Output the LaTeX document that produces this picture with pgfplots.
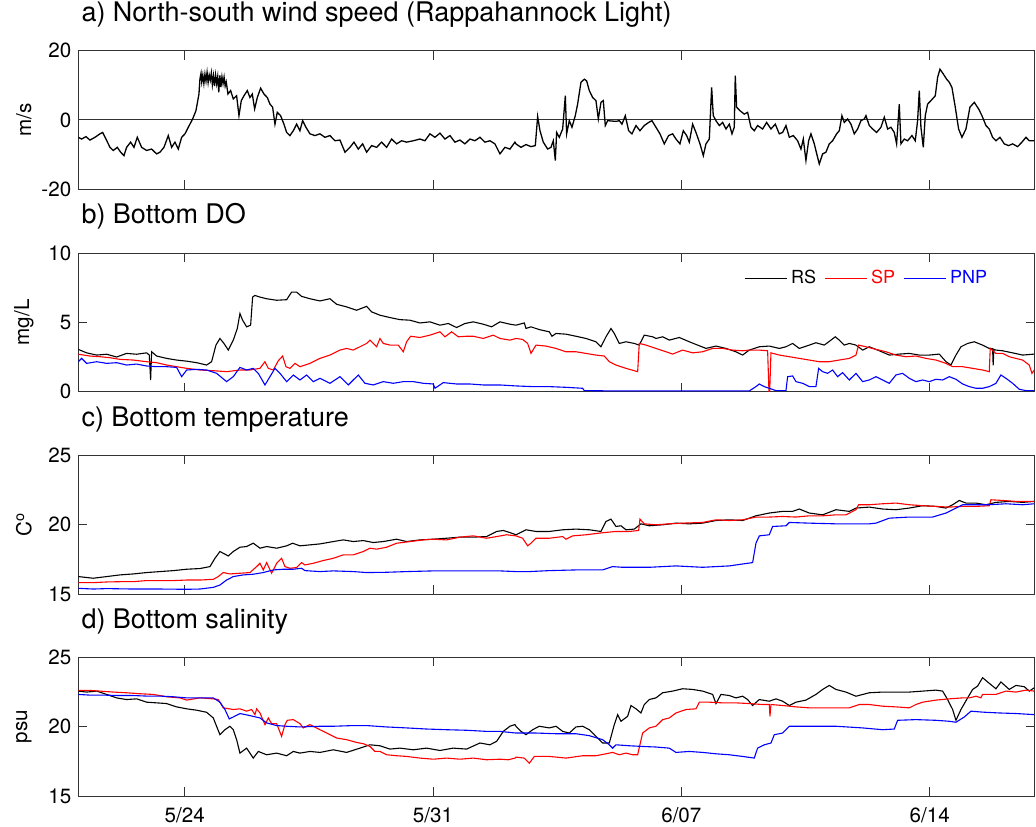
\documentclass[border=0pt]{standalone}
\usepackage{fontspec}
\setmainfont{TeX Gyre Heros}
\usepackage{pgfplots}
\pgfplotsset{compat=1.18}
\definecolor{axgray}{gray}{0.2}
\pgfplotsset{
  panel/.style={
    scale only axis, width=478pt, height=69.2pt,
    xmin=21, xmax=47.95,
    xtick={24,31,38,45}, xticklabels={},
    tick align=inside, xtick pos=both, ytick pos=both,
    major tick length=4.4pt,
    axis line style={axgray, line width=0.5pt},
    every tick/.style={axgray, line width=0.5pt},
    tick label style={font=\fontsize{10.3}{12}\selectfont},
    label style={font=\fontsize{10.3}{12}\selectfont},
    ylabel style={at={(axis description cs:-0.057,0.5)}, anchor=center},
    title style={at={(axis description cs:0,1)}, anchor=base west, xshift=1.4pt, yshift=8.7pt, inner sep=0pt, font=\fontsize{13.5}{16}\selectfont},
    anchor=south west,
    every axis plot/.append style={line width=0.55pt},
  },
}
\begin{document}
\begin{tikzpicture}
% ---------------- a) wind
\begin{axis}[panel, at={(39.15pt,318.4pt)},
  ymin=-20, ymax=20, ytick={-20,0,20}, yticklabels={-20,0,20},
  ylabel={m/s}, title={a) North-south wind speed (Rappahannock Light)}]
\addplot[axgray, line width=0.5pt] coordinates {(21,0) (47.95,0)};
\addplot[black, line width=0.65pt] coordinates {
(21.000,-5.0) (21.094,-5.5) (21.216,-4.8) (21.329,-5.8) (21.470,-5.0) (21.611,-4.0) (21.686,-3.6) (21.780,-5.5) (21.893,-7.9) (21.987,-8.8) (22.099,-7.9) (22.193,-9.3) (22.287,-10.3) (22.362,-7.9) (22.475,-6.4) (22.569,-7.9) (22.663,-5.0) (22.785,-7.9) (22.926,-8.8) (23.067,-8.4) (23.208,-9.8) (23.302,-9.3) (23.415,-7.9) (23.537,-4.5) (23.631,-7.9) (23.725,-6.4) (23.819,-8.4) (23.913,-5.0) (24.007,-4.0) (24.101,-2.1) (24.223,0.3) (24.317,2.7)
(24.401,7.5) (24.43,12.0) (24.46,13.5) (24.48,11.0) (24.51,13.0) (24.54,10.5) (24.57,13.3) (24.60,11.2) (24.63,13.8) (24.66,10.8) (24.69,13.0) (24.72,11.5) (24.75,13.6) (24.78,10.2) (24.81,12.8) (24.84,9.8) (24.87,13.0) (24.90,10.5) (24.93,12.6) (24.96,8.0) (24.99,12.9) (25.02,9.5) (25.05,12.5) (25.08,10.5) (25.11,12.4) (25.14,9.8) (25.17,11.0) (25.219,7.5)
(25.294,8.5) (25.369,6.1) (25.463,7.0) (25.529,1.25) (25.595,5.6) (25.670,7.0) (25.764,8.5) (25.839,6.5) (25.905,7.5) (25.971,3.2) (26.046,6.5) (26.140,9.2) (26.234,7.5) (26.328,6.5) (26.403,4.6) (26.478,3.7) (26.544,-1.2) (26.609,2.2) (26.703,1.25) (26.797,-1.2) (26.873,-3.6) (26.966,-4.5) (27.061,-3.1) (27.154,-1.2) (27.248,-3.1) (27.324,-0.2) (27.417,-2.1) (27.530,-4.0) (27.671,-4.5) (27.812,-4.0) (27.953,-5.0) (28.094,-4.5) (28.235,-6.0) (28.376,-5.8) (28.517,-9.3) (28.658,-7.9) (28.771,-6.4) (28.893,-8.4) (29.015,-6.9) (29.128,-9.3) (29.269,-7.4) (29.410,-7.9) (29.550,-6.4) (29.691,-7.9) (29.832,-5.5) (29.973,-6.9) (30.114,-6.0) (30.255,-6.4) (30.443,-6.0) (30.631,-5.5) (30.772,-6.0) (30.913,-4.0) (31.054,-5.0) (31.195,-3.8) (31.336,-5.5) (31.477,-4.5) (31.617,-6.4) (31.758,-5.8) (31.899,-6.9) (32.040,-5.5) (32.181,-6.0) (32.322,-5.0) (32.463,-6.4) (32.604,-6.0) (32.745,-6.9) (32.886,-9.8) (33.027,-7.9) (33.168,-8.4) (33.309,-6.4)
(33.338,-6.9) (33.479,-7.9) (33.620,-7.1) (33.761,-7.7) (33.883,-7.4) (33.949,1.0) (34.015,-3.1) (34.108,-6.4) (34.231,-8.4) (34.325,-7.9) (34.390,-6.0) (34.447,-11.7) (34.484,-3.6) (34.559,-5.0) (34.654,-2.6) (34.729,7.0) (34.766,-4.0) (34.841,-0.2) (34.917,-2.1) (35.010,1.25) (35.076,4.6) (35.170,10.9) (35.264,11.8) (35.330,11.3) (35.405,8.5) (35.499,6.5) (35.593,5.6) (35.659,0.3) (35.734,5.1) (35.800,5.6) (35.856,-1.6) (35.922,-0.2) (36.157,-0.4) (36.251,-0.2) (36.326,-1.2) (36.420,1.25) (36.514,-3.1) (36.608,-4.0) (36.721,-1.6) (36.833,-3.1) (36.955,-1.6) (37.078,-0.7) (37.172,-0.2) (37.284,-2.1) (37.397,-4.0) (37.519,-6.9) (37.641,-4.5) (37.754,-4.0) (37.848,-5.5) (37.961,-6.9) (38.055,-3.1) (38.149,-4.5) (38.224,-6.4) (38.318,-1.2) (38.412,-3.6) (38.525,-6.9) (38.619,-10.3) (38.694,-6.9) (38.788,-5.5) (38.854,9.4) (38.900,1.25) (38.976,-0.2) (39.070,-1.6) (39.164,-0.7) (39.258,-2.6) (39.352,-1.2) (39.427,-4.0) (39.492,-2.1) (39.520,12.8) (39.558,3.7) (39.652,2.7) (39.774,1.7) (39.868,2.2) (39.962,-2.1) (40.056,-3.1) (40.150,-1.6) (40.291,-2.6) (40.404,-0.7) (40.526,-2.6) (40.648,-1.2) (40.761,-4.0) (40.855,-3.6) (40.949,-1.6) (41.043,-5.0) (41.156,-4.5) (41.278,-6.0) (41.372,-8.4) (41.438,-5.5) (41.512,-11.7) (41.588,-6.0) (41.654,-4.0) (41.747,-6.9) (41.841,-10.8) (41.888,-12.7) (41.982,-9.8) (42.076,-9.3) (42.170,-6.9) (42.264,-6.0) (42.377,-4.0) (42.452,-3.1) (42.527,1.25) (42.593,-0.7) (42.687,0.3) (42.781,-1.2) (42.875,-4.0) (42.969,-2.6) (43.063,-0.2) (43.157,0.3) (43.204,1.25) (43.298,-1.6) (43.392,-2.6) (43.505,-3.6) (43.627,-2.1) (43.721,0.8) (43.815,-2.6) (43.908,-2.1) (44.002,-3.6) (44.068,-6.9) (44.143,4.6) (44.190,-6.9) (44.284,-5.5) (44.378,-6.0) (44.500,-4.5) (44.594,-6.0) (44.660,-0.2) (44.707,8.5) (44.754,-2.1) (44.820,-7.9) (44.876,1.25) (44.942,4.6) (45.036,5.6) (45.158,7.0) (45.224,12.3) (45.290,14.7) (45.384,13.3) (45.478,11.8) (45.553,10.9) (45.628,9.4) (45.722,3.7) (45.816,-2.6) (45.910,-5.0) (46.023,-2.6) (46.135,3.7) (46.258,5.1) (46.380,3.2) (46.474,1.25) (46.586,-1.6) (46.680,-2.6) (46.774,-5.0) (46.868,-6.0) (46.981,-5.0) (47.103,-6.9) (47.225,-7.4) (47.338,-6.9) (47.479,-7.7) (47.601,-6.4) (47.714,-5.0) (47.808,-6.0) (47.949,-6.0)};
\end{axis}
% ---------------- b) DO
\begin{axis}[panel, at={(39.15pt,217.2pt)},
  ymin=0, ymax=10, ytick={0,5,10}, yticklabels={0,5,10},
  ylabel={mg/L}, title={b) Bottom DO},
  legend style={at={(axis description cs:0.696,0.82)}, anchor=west, draw=none, fill=none,
    legend columns=3, font=\fontsize{9}{11}\selectfont, inner sep=0pt,
    /tikz/every even column/.append style={column sep=2pt}},
  legend image code/.code={\draw[#1, line width=0.5pt] (0pt,0pt) -- (21pt,0pt);}]
\addplot[black] coordinates {
(21.000,3.05) (21.235,2.8) (21.517,2.64) (21.799,2.7) (22.081,2.5) (22.362,2.76) (22.644,2.7) (22.926,2.8) (23.001,2.64) (23.039,0.84) (23.067,2.88) (23.208,2.57) (23.490,2.4) (23.772,2.28) (24.054,2.2) (24.336,2.09) (24.617,1.92) (24.758,2.16) (24.880,3.36) (24.993,3.84) (25.106,3.48) (25.228,3.0) (25.369,3.72) (25.482,4.56) (25.557,5.64) (25.632,5.16) (25.745,4.68) (25.858,4.8) (25.914,6.83) (25.980,6.95) (26.121,6.83) (26.309,6.71) (26.591,6.6) (26.873,6.64) (27.013,7.19) (27.154,7.19) (27.295,6.88) (27.530,6.71) (27.812,6.55) (28.094,6.71) (28.282,6.31) (28.564,6.12) (28.846,5.88) (29.128,6.16) (29.269,5.76) (29.504,5.52) (29.785,5.35) (30.067,5.2) (30.349,5.16) (30.631,4.96) (30.913,5.04) (31.195,4.8) (31.430,4.92) (31.664,4.63) (31.899,4.92) (32.134,5.04) (32.416,4.87) (32.651,4.68) (32.886,5.04) (33.168,4.87)
(33.338,4.8) (33.573,4.96) (33.620,4.56) (33.761,4.68) (33.996,4.48) (34.278,4.32) (34.353,4.0) (34.466,4.2) (34.747,4.15) (35.029,4.0) (35.311,3.84) (35.593,3.6) (35.734,3.24) (35.875,3.96) (36.016,4.56) (36.110,4.2) (36.251,3.48) (36.439,3.6) (36.674,3.48) (36.814,3.36) (36.955,4.08) (37.190,3.96) (37.284,3.84) (37.472,3.96) (37.660,3.72) (37.942,3.91) (38.224,3.6) (38.459,3.36) (38.694,3.12) (38.976,3.29) (39.258,3.12) (39.539,2.88) (39.727,2.64) (39.915,3.0) (40.197,3.24) (40.479,3.29) (40.761,3.12) (40.949,3.24) (41.137,3.48) (41.325,3.12) (41.606,3.36) (41.794,3.53) (42.029,3.36) (42.217,3.72) (42.339,3.96) (42.452,3.72) (42.593,3.36) (42.734,3.48) (42.922,3.36) (43.110,3.0) (43.298,3.24) (43.580,2.95) (43.862,2.64) (44.143,2.71) (44.425,2.76) (44.707,2.64) (44.989,2.64) (45.271,2.71) (45.459,2.16) (45.600,1.92) (45.741,2.64) (45.882,3.24) (46.070,3.48) (46.258,3.6) (46.492,3.36) (46.680,3.12) (46.774,3.1) (46.790,1.9) (46.810,3.05) (46.868,3.0) (47.056,2.95) (47.338,2.8) (47.620,2.64) (47.949,2.71)};
\addlegendentry{RS}
\addplot[red] coordinates {
(21.000,2.7) (21.329,2.57) (21.611,2.52) (21.893,2.45) (22.174,2.33) (22.550,2.28) (22.926,2.16) (23.208,2.09) (23.490,1.92) (23.772,1.8) (24.054,1.68) (24.430,1.56) (24.805,1.51) (25.181,1.44) (25.557,1.56) (25.839,1.56) (26.121,1.68) (26.262,2.16) (26.356,1.68) (26.497,1.56) (26.638,2.23) (26.760,2.57) (26.854,1.8) (26.966,1.68) (27.107,2.04) (27.248,1.8) (27.530,2.04) (27.812,2.4) (28.094,2.64) (28.376,3.0) (28.564,3.12) (28.752,3.0) (28.940,3.24) (29.128,3.48) (29.222,3.72) (29.410,3.24) (29.504,3.84) (29.597,3.48) (29.785,3.36) (30.020,3.36) (30.161,2.88) (30.255,3.6) (30.368,4.0) (30.631,3.91) (30.913,4.08) (31.195,4.32) (31.336,3.96) (31.524,4.32) (31.711,3.96) (31.946,4.0) (32.134,4.0) (32.416,3.84) (32.698,4.08) (32.886,3.84) (33.168,3.72)
(33.338,3.84) (33.526,3.77) (33.667,3.48) (33.761,2.76) (33.902,3.36) (34.184,3.29) (34.466,3.12) (34.747,2.88) (35.029,2.88) (35.311,2.76) (35.593,2.64) (35.828,2.57) (35.969,2.16) (36.157,1.92) (36.439,1.68) (36.768,1.44) (36.814,3.48) (37.002,3.36) (37.284,3.12) (37.566,2.88) (37.754,2.71) (38.036,3.0) (38.318,2.8) (38.600,2.88) (38.882,3.12) (39.164,3.12) (39.445,3.0) (39.727,2.95) (39.915,3.0) (40.197,3.0) (40.432,2.95) (40.470,0.0) (40.490,0.0) (40.526,2.8) (40.761,2.64) (41.043,2.52) (41.325,2.4) (41.606,2.28) (41.888,2.16) (42.170,2.16) (42.452,2.28) (42.734,2.4) (42.922,2.64) (42.997,3.36) (43.204,3.24) (43.486,3.05) (43.768,2.88) (44.049,2.64) (44.331,2.52) (44.613,2.57) (44.895,2.4) (45.177,2.28) (45.459,2.04) (45.647,1.8) (45.929,1.8) (46.211,1.68) (46.492,1.56) (46.680,1.44) (46.708,3.12) (46.868,2.76) (47.056,2.76) (47.244,2.52) (47.432,2.4) (47.620,2.28) (47.808,1.92) (47.883,1.32) (47.949,1.56)};
\addlegendentry{\textcolor{red}{SP}}
\addplot[blue] coordinates {
(21.000,2.16) (21.094,2.4) (21.235,2.04) (21.517,2.16) (21.799,2.04) (22.081,2.09) (22.362,1.92) (22.644,1.99) (22.926,1.85) (23.208,1.8) (23.490,1.8) (23.772,1.75) (23.913,1.08) (24.054,1.56) (24.336,1.61) (24.617,1.56) (24.899,1.32) (25.181,0.72) (25.369,1.08) (25.557,1.75) (25.745,1.56) (25.933,1.68) (26.074,1.32) (26.262,0.48) (26.403,1.08) (26.544,1.68) (26.685,1.32) (26.873,0.72) (27.061,1.2) (27.248,0.84) (27.436,1.2) (27.624,0.72) (27.812,0.96) (28.094,0.6) (28.376,1.08) (28.611,0.48) (28.893,1.2) (29.081,0.6) (29.316,0.48) (29.597,0.72) (29.879,0.6) (30.161,0.72) (30.443,0.72) (30.725,0.6) (31.007,0.55) (31.054,0.24) (31.289,0.65) (31.664,0.55) (32.040,0.55) (32.416,0.48) (32.886,0.48) (33.338,0.41)
(33.808,0.36) (34.278,0.36) (34.747,0.31) (35.217,0.24) (35.264,0.07) (36.157,0.05) (37.096,0.05) (38.036,0.05) (38.976,0.05) (39.915,0.05) (40.103,0.36) (40.197,0.55) (40.338,0.36) (40.479,0.24) (40.667,0.07) (40.949,0.07) (40.996,1.08) (41.137,1.13) (41.231,0.72) (41.419,0.6) (41.606,0.36) (41.794,0.36) (41.870,1.68) (41.982,1.44) (42.123,1.32) (42.264,1.56) (42.405,1.08) (42.546,1.37) (42.734,0.84) (42.922,1.32) (43.110,0.72) (43.298,0.84) (43.486,1.08) (43.674,0.84) (43.862,0.6) (44.049,1.2) (44.237,1.32) (44.425,0.96) (44.613,0.72) (44.801,0.84) (44.989,0.72) (45.177,0.89) (45.365,0.84) (45.553,1.08) (45.741,0.89) (45.929,0.55) (46.117,0.36) (46.305,0.24) (46.492,0.24) (46.680,0.36) (46.868,0.6) (47.009,1.2) (47.150,0.96) (47.338,0.6) (47.526,0.17) (47.714,0.07) (47.949,0.07)};
\addlegendentry{\textcolor{blue}{PNP}}
\end{axis}
% ---------------- c) temperature
\begin{axis}[panel, at={(39.15pt,116.0pt)},
  ymin=15, ymax=25, ytick={15,20,25}, yticklabels={15,20,25},
  ylabel={C\textsuperscript{o}}, title={c) Bottom temperature}]
\addplot[black] coordinates {
(21.000,16.26) (21.423,16.14) (21.799,16.26) (22.174,16.38) (22.550,16.45) (22.926,16.55) (23.302,16.62) (23.678,16.69) (24.054,16.79) (24.430,16.84) (24.711,16.98) (24.852,17.58) (24.993,18.07) (25.228,17.75) (25.369,18.07) (25.557,18.38) (25.745,18.43) (25.933,18.67) (26.121,18.31) (26.309,18.43) (26.591,18.31) (26.873,18.48) (27.042,18.67) (27.248,18.48) (27.530,18.55) (27.812,18.62) (28.188,18.79) (28.470,18.91) (28.752,18.79) (29.034,18.86) (29.316,18.72) (29.597,18.79) (29.973,18.96) (30.255,18.79) (30.631,18.91) (31.007,18.96) (31.383,19.03) (31.758,19.11) (32.134,19.11) (32.510,19.15) (32.792,19.52) (32.980,19.59) (33.168,19.44)
(33.338,19.28) (33.620,19.64) (33.902,19.52) (34.278,19.52) (34.654,19.64) (35.029,19.69) (35.405,19.64) (35.734,19.52) (35.875,20.24) (36.016,20.41) (36.157,19.88) (36.298,19.93) (36.439,19.64) (36.674,19.69) (36.861,20.07) (37.096,19.93) (37.472,20.0) (37.848,20.12) (38.224,20.07) (38.600,20.12) (38.976,20.31) (39.352,20.36) (39.727,20.31) (40.103,20.65) (40.479,20.85) (40.855,20.97) (41.137,20.97) (41.325,21.14) (41.606,20.85) (41.982,20.72) (42.358,21.09) (42.734,20.97) (42.922,21.21) (43.298,21.28) (43.674,21.14) (44.049,21.09) (44.425,21.21) (44.801,21.38) (45.177,21.33) (45.459,21.21) (45.647,21.45) (45.835,21.76) (46.023,21.57) (46.305,21.57) (46.586,21.45) (46.868,21.62) (47.244,21.69) (47.620,21.62) (47.949,21.69)};
\addplot[red] coordinates {
(21.000,15.82) (21.423,15.82) (21.799,15.87) (22.174,15.89) (22.550,15.89) (22.926,15.97) (23.302,15.97) (23.678,15.97) (24.054,16.01) (24.430,16.01) (24.805,16.06) (24.946,16.26) (25.087,16.55) (25.275,16.45) (25.557,16.5) (25.839,16.55) (26.027,16.98) (26.121,17.22) (26.215,16.74) (26.309,17.27) (26.450,16.5) (26.591,17.22) (26.731,17.58) (26.826,16.98) (26.966,16.86) (27.154,16.91) (27.295,17.27) (27.389,17.1) (27.624,17.22) (27.906,17.42) (28.188,17.58) (28.470,17.83) (28.752,17.83) (29.034,18.07) (29.222,18.31) (29.410,18.24) (29.691,18.38) (29.973,18.67) (30.349,18.79) (30.725,18.91) (31.007,18.96) (31.383,18.91) (31.758,19.11) (32.134,19.2) (32.510,19.03) (32.792,19.15) (33.074,19.28)
(33.338,19.2) (33.526,19.03) (33.667,18.48) (33.761,18.67) (33.902,19.03) (34.278,19.03) (34.654,19.15) (34.747,18.96) (34.935,19.2) (35.311,19.28) (35.687,19.4) (36.157,19.52) (36.533,19.52) (36.796,19.59) (36.833,20.41) (36.955,20.07) (37.284,20.0) (37.660,20.07) (38.036,20.12) (38.600,20.17) (38.976,20.36) (39.352,20.31) (39.727,20.36) (40.103,20.56) (40.479,20.56) (40.855,20.6) (41.231,20.56) (41.606,20.65) (41.982,20.65) (42.358,20.72) (42.640,20.72) (42.922,21.09) (42.997,21.45) (43.298,21.45) (43.674,21.52) (44.049,21.57) (44.425,21.45) (44.801,21.38) (45.177,21.33) (45.553,21.28) (45.929,21.33) (46.305,21.33) (46.680,21.38) (46.727,21.81) (47.056,21.76) (47.432,21.69) (47.949,21.69)};
\addplot[blue] coordinates {
(21.000,15.41) (21.423,15.36) (21.799,15.39) (22.550,15.36) (23.302,15.36) (24.054,15.34) (24.430,15.36) (24.805,15.48) (24.993,15.65) (25.181,16.01) (25.369,16.26) (25.651,16.38) (25.933,16.43) (26.215,16.55) (26.497,16.74) (26.779,16.79) (27.061,16.79) (27.295,16.86) (27.389,16.69) (27.812,16.62) (28.188,16.67) (28.752,16.62) (29.128,16.55) (29.691,16.57) (30.255,16.62) (31.007,16.67) (31.946,16.67) (32.886,16.67)
(33.338,16.62) (33.714,16.62) (34.278,16.69) (35.029,16.74) (35.781,16.74) (36.063,16.98) (36.345,16.93) (37.096,16.93) (37.848,17.03) (38.600,16.93) (39.352,17.03) (39.727,17.17) (40.009,17.27) (40.103,18.67) (40.197,19.2) (40.479,19.28) (40.573,19.88) (40.949,19.93) (41.043,20.17) (41.606,20.12) (42.358,20.07) (43.298,20.07) (43.486,20.12) (43.862,20.48) (44.425,20.56) (45.083,20.56) (45.459,20.85) (45.647,21.09) (45.929,21.45) (46.305,21.45) (46.680,21.45) (47.150,21.52) (47.620,21.45) (47.949,21.52)};
\end{axis}
% ---------------- d) salinity
\begin{axis}[panel, at={(39.15pt,15.0pt)},
  ymin=15, ymax=25, ytick={15,20,25}, yticklabels={15,20,25},
  xticklabels={5/24,5/31,6/07,6/14}, xticklabel style={yshift=-2.3pt},
  ylabel={psu}, title={d) Bottom salinity}]
\addplot[black] coordinates {
(21.000,22.58) (21.235,22.51) (21.517,22.58) (21.799,22.34) (22.081,22.09) (22.362,21.97) (22.644,22.02) (22.926,21.78) (23.208,21.73) (23.490,21.68) (23.772,21.44) (24.054,21.3) (24.336,21.2) (24.617,21.05) (24.805,20.64) (24.993,19.43) (25.134,19.79) (25.275,20.04) (25.369,19.79) (25.463,19.07) (25.557,18.1) (25.745,18.46) (25.933,17.74) (26.074,18.22) (26.309,17.98) (26.591,18.1) (26.873,17.91) (27.061,18.22) (27.248,18.1) (27.530,18.22) (27.812,18.15) (28.188,18.34) (28.564,18.15) (28.940,18.46) (29.222,18.7) (29.504,18.63) (29.785,18.39) (30.067,18.46) (30.443,18.34) (30.819,18.46) (31.195,18.29) (31.570,18.46) (31.946,18.39) (32.322,18.83) (32.604,18.7) (32.792,18.95) (32.980,19.67) (33.168,20.04) (33.309,20.16)
(33.338,20.04) (33.479,19.67) (33.620,19.43) (33.808,19.79) (33.996,20.04) (34.278,19.92) (34.466,20.04) (34.654,19.67) (34.841,19.55) (35.029,19.99) (35.217,20.04) (35.405,19.79) (35.593,19.31) (35.781,18.83) (35.969,18.83) (36.110,20.16) (36.204,20.88) (36.298,20.4) (36.486,20.76) (36.580,21.54) (36.721,21.3) (36.861,21.0) (36.955,21.61) (37.096,21.97) (37.284,22.09) (37.472,22.46) (37.754,22.58) (38.036,22.75) (38.318,22.7) (38.600,22.58) (38.882,22.34) (38.976,21.68) (39.116,22.34) (39.352,22.26) (39.539,22.09) (39.727,22.21) (39.868,21.97) (40.009,21.54) (40.197,21.97) (40.479,21.85) (40.667,22.02) (40.855,21.85) (41.043,21.54) (41.231,21.78) (41.512,21.93) (41.794,22.34) (41.982,22.7) (42.170,22.99) (42.358,22.7) (42.640,22.51) (42.922,22.21) (43.298,22.46) (43.674,22.51) (44.049,22.51) (44.425,22.51) (44.801,22.58) (45.177,22.65) (45.365,22.58) (45.506,21.97) (45.647,21.25) (45.741,20.47) (45.882,21.25) (46.070,22.09) (46.211,22.7) (46.351,22.94) (46.492,23.55) (46.680,23.14) (46.868,22.75) (47.009,23.24) (47.244,22.7) (47.432,22.99) (47.667,22.9) (47.808,22.58) (47.949,22.82)};
\addplot[red] coordinates {
(21.000,22.63) (21.329,22.63) (21.611,22.58) (21.987,22.51) (22.362,22.46) (22.738,22.39) (23.114,22.34) (23.490,22.17) (23.866,22.09) (24.054,21.93) (24.430,22.09) (24.805,22.02) (24.946,21.97) (25.087,21.37) (25.369,21.25) (25.557,21.3) (25.745,21.13) (25.886,21.25) (25.980,20.88) (26.027,21.3) (26.121,21.0) (26.262,20.16) (26.356,20.64) (26.450,20.23) (26.591,20.23) (26.731,19.31) (26.826,20.16) (26.891,20.47) (27.061,20.52) (27.248,20.23) (27.342,19.92) (27.530,20.16) (27.812,19.79) (28.094,19.43) (28.282,19.19) (28.564,19.07) (28.846,18.87) (29.034,18.78) (29.222,18.58) (29.363,18.22) (29.504,18.22) (29.691,17.98) (29.973,17.91) (30.255,17.86) (30.631,17.74) (31.007,17.66) (31.383,17.74) (31.758,17.66) (32.134,17.74) (32.510,17.62) (32.886,17.66) (33.121,17.62) (33.309,17.74)
(33.338,17.81) (33.573,17.74) (33.714,17.37) (33.855,17.86) (34.278,17.86) (34.747,17.74) (35.217,17.91) (35.593,17.91) (35.875,18.05) (36.063,18.15) (36.251,17.98) (36.439,18.1) (36.627,17.98) (36.768,17.98) (36.908,19.55) (37.096,19.92) (37.284,20.04) (37.472,20.52) (37.660,20.64) (37.848,21.0) (38.130,21.25) (38.412,21.3) (38.506,21.78) (38.788,21.78) (39.164,21.73) (39.539,21.73) (39.915,21.68) (40.291,21.61) (40.479,21.61) (40.498,20.76) (40.526,21.61) (40.855,21.54) (41.231,21.44) (41.606,21.37) (41.982,21.37) (42.358,21.37) (42.734,21.37) (43.016,21.61) (43.298,21.61) (43.674,21.49) (44.049,21.44) (44.425,21.37) (44.613,21.61) (44.801,21.78) (45.177,21.93) (45.553,22.02) (45.929,22.09) (46.117,22.09) (46.305,22.21) (46.445,22.09) (46.492,22.34) (46.868,22.34) (47.150,22.58) (47.432,22.51) (47.714,22.65) (47.949,22.58)};
\addplot[blue] coordinates {
(21.000,22.34) (21.329,22.29) (21.705,22.29) (22.174,22.26) (22.550,22.26) (22.926,22.22) (23.302,22.22) (23.678,22.17) (24.054,22.09) (24.430,22.09) (24.805,22.09) (24.993,21.78) (25.134,21.25) (25.256,20.57) (25.369,20.71) (25.557,20.96) (25.839,20.81) (26.121,20.64) (26.309,20.28) (26.591,20.09) (26.873,20.04) (27.248,19.99) (27.812,20.04) (28.188,20.04) (28.752,20.09) (29.128,20.09) (29.691,19.99) (30.255,19.92) (30.819,19.84) (31.383,19.79) (31.946,19.75) (32.510,19.67) (32.886,19.67) (33.338,19.55)
(33.902,19.55) (34.466,19.5) (35.029,19.5) (35.405,19.36) (35.781,19.07) (35.969,18.7) (36.063,18.46) (36.157,18.7) (36.533,18.63) (36.908,18.58) (37.284,18.54) (37.660,18.46) (37.848,18.15) (38.224,18.22) (38.600,18.15) (38.976,18.05) (39.352,17.98) (39.727,17.86) (40.056,17.74) (40.150,18.46) (40.338,18.7) (40.526,18.83) (40.620,19.43) (40.855,19.55) (41.043,20.04) (41.606,20.04) (42.358,20.04) (43.110,19.92) (43.674,19.79) (44.002,19.84) (44.096,20.47) (44.613,20.52) (45.177,20.47) (45.553,20.4) (45.741,20.33) (45.976,20.71) (46.164,21.13) (46.492,21.06) (46.962,21.0) (47.432,20.96) (47.949,20.88)};
\end{axis}
\pgfresetboundingbox
\path[use as bounding box] (0,0) rectangle (518pt,413pt);
\end{tikzpicture}
\end{document}
